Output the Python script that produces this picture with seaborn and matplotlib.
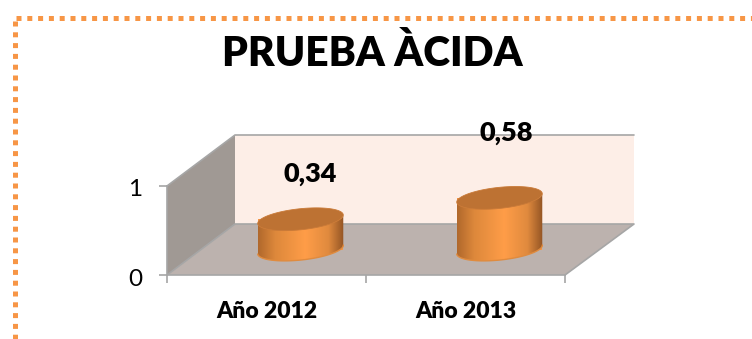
import numpy as np
import pandas as pd
import matplotlib
matplotlib.use("Agg")
import matplotlib.pyplot as plt
import seaborn as sns
from matplotlib.colors import LinearSegmentedColormap
from matplotlib.patches import Polygon
from matplotlib.transforms import Affine2D, ScaledTranslation

categories = ["Año 2012", "Año 2013"]
values = [0.34, 0.58]
value_labels = ["0,34", "0,58"]
y_ticks = [0, 1]
title = "PRUEBA ÀCIDA"

W, H = 752, 339
DEPTH_X, DEPTH_Y = 68, 51
BODY = "#F79646"
TOP = "#BD7233"
FONT = ["Lato", "DejaVu Sans"]
HEAVY = 800

sns.set_theme(style="white")
plt.rcParams["font.family"] = FONT

fig = plt.figure(figsize=(W / 100, H / 100), dpi=100, facecolor="white")
ax = fig.add_axes([167 / W, (H - 275) / H, 398 / W, 89 / H], facecolor="none")
px = Affine2D().scale(1, -1).translate(0, H)

df = pd.DataFrame({"year": categories, "value": values})
sns.barplot(data=df, x="year", y="value", color=BODY, width=0.432, saturation=1,
            linewidth=0, ax=ax, zorder=3)
ax.set_xlim(-0.5, 1.5)
ax.set_ylim(0, 1)

# walls and floor
x0, x1, y0, y1 = 167, 565, 275, 186
edge = "#A6A6A6"
walls = [
    ([(x0, y0), (x0, y1), (x0 + DEPTH_X, y1 - DEPTH_Y), (x0 + DEPTH_X, y0 - DEPTH_Y)], "#A09994"),
    ([(x0 + DEPTH_X, y1 - DEPTH_Y), (x1 + DEPTH_X + 1, y1 - DEPTH_Y),
      (x1 + DEPTH_X + 1, y0 - DEPTH_Y), (x0 + DEPTH_X, y0 - DEPTH_Y)], "#FDEEE7"),
    ([(x0, y0), (x1, y0), (x1 + DEPTH_X + 1, y0 - DEPTH_Y), (x0 + DEPTH_X, y0 - DEPTH_Y)], "#BCB2AE"),
]
for pts, color in walls:
    ax.add_patch(Polygon(pts, closed=True, facecolor=color, edgecolor="none",
                         transform=px, clip_on=False, zorder=1))
for seg in [[(x0, y1), (x0 + DEPTH_X, y1 - DEPTH_Y), (x1 + DEPTH_X + 1, y1 - DEPTH_Y)],
            [(x0, y0), (x0 + DEPTH_X, y0 - DEPTH_Y), (x1 + DEPTH_X + 1, y0 - DEPTH_Y), (x1, y0)]]:
    xs, ys = zip(*seg)
    ax.plot(xs, ys, color=edge, lw=1.2, transform=px, clip_on=False, zorder=2)


def ellipse(cx, cy, a, b, theta, t):
    return np.column_stack([
        cx + a * np.cos(t) * np.cos(theta) + b * np.sin(t) * np.sin(theta),
        cy - a * np.cos(t) * np.sin(theta) + b * np.sin(t) * np.cos(theta),
    ])


cmap = LinearSegmentedColormap.from_list(
    "cyl", [(0, "#B0682C"), (0.2, "#DD883B"), (0.55, "#FF9D48"), (0.82, "#E08A3E"), (1, "#935424")])
grad = np.linspace(0, 1, 256).reshape(1, -1)
fig.canvas.draw()
to_px = ax.transData + px.inverted()
theta = np.radians(6)
RX, RY = 43, 10.5
for bar in ax.patches[:len(values)]:
    bx, by = bar.get_x(), bar.get_height()
    (left, base), (right, top) = to_px.transform([(bx, 0), (bx + bar.get_width(), by)])
    left += DEPTH_X / 2
    right += DEPTH_X / 2
    base -= DEPTH_Y / 2
    top -= DEPTH_Y / 2
    cx = (left + right) / 2
    bar.set_transform(ax.transData + ScaledTranslation(DEPTH_X / 200, DEPTH_Y / 200, fig.dpi_scale_trans))
    bar.set_clip_on(False)

    low = ellipse(cx, base, RX, RY, theta, np.linspace(np.pi, 0, 60))
    outline = np.vstack([low, ellipse(cx, top, RX, RY, theta, np.linspace(0, np.pi, 60))])
    body = Polygon(outline, closed=True, transform=px, facecolor="none", edgecolor="none")
    ax.add_patch(body)
    im = ax.imshow(grad, cmap=cmap, aspect="auto", zorder=4, transform=px,
                   extent=(left, right, base + 14, top - 14), clip_on=True)
    im.set_clip_path(body)
    ax.plot(*low.T, color="#E08B3E", lw=1.0, transform=px, clip_on=False, zorder=4.5)
    lid = ellipse(cx, top, RX, RY, theta, np.linspace(0, 2 * np.pi, 120))
    ax.add_patch(Polygon(lid, closed=True, facecolor=TOP, edgecolor="#C97A38", lw=0.6,
                         transform=px, clip_on=False, zorder=5))

ax.set_xlim(-0.5, 1.5)
ax.set_ylim(0, 1)

# value labels
label_shift = [(10, -45), (6.5, -65)]
for bar, text, (dx, dy) in zip(ax.patches[:len(values)], value_labels, label_shift):
    cx = bar.get_x() + bar.get_width() / 2
    ax.annotate(text, xy=(cx, bar.get_height()),
                xytext=((DEPTH_X / 2 + dx) * 0.72, (DEPTH_Y / 2 - dy) * 0.72),
                textcoords="offset points", ha="center", va="center",
                fontsize=19.5, fontweight=HEAVY, color="black", zorder=6, annotation_clip=False)

# axes
sns.despine(ax=ax, top=True, right=True)
for side in ("left", "bottom"):
    ax.spines[side].set_color(edge)
    ax.spines[side].set_linewidth(1.2)
    ax.spines[side].set_zorder(2.5)
ax.set_xlabel("")
ax.set_ylabel("")
ax.set_yticks(y_ticks)
ax.set_yticklabels([str(v) for v in y_ticks], fontsize=17.5)
ax.tick_params(axis="y", left=True, length=6, width=1.2, color=edge, pad=12, labelcolor="black")
for lab in ax.get_yticklabels():
    lab.set_transform(lab.get_transform() + ScaledTranslation(0, -2 / 100, fig.dpi_scale_trans))
ax.set_xticks([0, 1])
ax.set_xticklabels(categories, fontsize=16.5, fontweight=HEAVY, color="black")
ax.set_xticks([-0.5, 0.5, 1.5], minor=True)
ax.tick_params(axis="x", which="major", bottom=False, pad=13)
ax.tick_params(axis="x", which="minor", bottom=True, length=6, width=1.2, color=edge)

fig.text(372 / W, 1 - 54 / H, title, ha="center", va="center",
         fontsize=29.3, fontweight=HEAVY, color="black")

# dotted frame
frame = dict(color="#F79646", lw=3.6, dash_capstyle="butt", clip_on=False, transform=px, zorder=7)
ax.plot([16, W], [17.5, 17.5], linestyle=(0, (1.0, 1.16)), **frame)
ax.plot([14.5, 14.5], [21, H], linestyle=(0, (1.0, 1.16)), **frame)

fig.savefig("out.png", dpi=100)
